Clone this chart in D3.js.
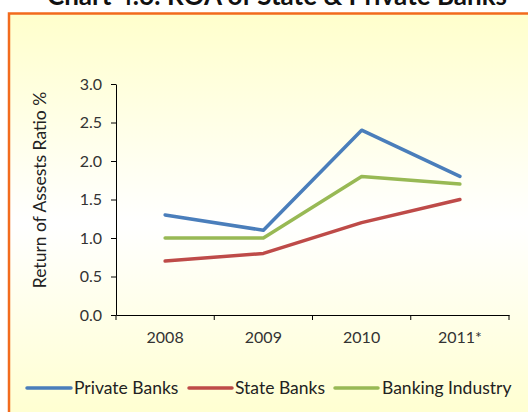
<!DOCTYPE html>
<html>
<head>
<meta charset="utf-8">
<script src="https://cdn.jsdelivr.net/npm/d3@7/dist/d3.min.js"></script>
<style>
  html, body { margin: 0; padding: 0; background: #fff; }
  svg { display: block; }
  text { font-family: Lato, "Open Sans", sans-serif; }
</style>
</head>
<body>
<svg id="chart" width="528" height="412"></svg>
<script>
// Return on assets (%) by year
const years = ["2008", "2009", "2010", "2011*"];
const privateBanks = [1.3, 1.1, 2.4, 1.8];
const stateBanks = [0.7, 0.8, 1.2, 1.5];
const bankingIndustry = [1.0, 1.0, 1.8, 1.7];
const yTicks = [0, 0.5, 1.0, 1.5, 2.0, 2.5, 3.0];

const series = [
  { name: "Private Banks", values: privateBanks, color: "#4a7ebb" },
  { name: "State Banks", values: stateBanks, color: "#be4b48" },
  { name: "Banking Industry", values: bankingIndustry, color: "#98b954" }
];

const svg = d3.select("#chart");

// panel background with soft yellow-white vertical gradient
const defs = svg.append("defs");
const grad = defs.append("linearGradient")
  .attr("id", "bg").attr("x1", 0).attr("y1", 0).attr("x2", 0).attr("y2", 1);
grad.append("stop").attr("offset", "0%").attr("stop-color", "#ffffcc");
grad.append("stop").attr("offset", "50%").attr("stop-color", "#ffffff");
grad.append("stop").attr("offset", "100%").attr("stop-color", "#ffffcc");

svg.append("rect")
  .attr("x", 9).attr("y", 13.5).attr("width", 540).attr("height", 420)
  .attr("fill", "url(#bg)")
  .attr("stroke", "#f26b1d").attr("stroke-width", 2.5);

// title
svg.append("text")
  .attr("x", 277).attr("y", 5)
  .attr("text-anchor", "middle")
  .attr("font-size", 26).attr("font-weight", "bold")
  .attr("fill", "#111")
  .text("Chart 4.6: ROA of State & Private Banks");

const plotLeft = 116, plotRight = 509, plotTop = 84, plotBottom = 315;

const x = d3.scaleBand().domain(years).range([plotLeft, plotRight]);
const y = d3.scaleLinear().domain([0, 3]).range([plotBottom, plotTop]);

// y axis
const yAxis = svg.append("g")
  .attr("transform", `translate(${plotLeft},0)`)
  .call(d3.axisLeft(y).tickValues(yTicks).tickFormat(d3.format(".1f")).tickSize(5).tickSizeOuter(0));
yAxis.select(".domain").attr("stroke", "#000");
yAxis.selectAll(".tick line").attr("stroke", "#000");
yAxis.selectAll(".tick text")
  .attr("x", -14)
  .attr("font-size", 16).attr("fill", "#333")
  .style("font-family", "Lato, sans-serif");

// x axis with ticks at category boundaries
const xAxis = svg.append("g")
  .attr("transform", `translate(0,${plotBottom})`)
  .call(d3.axisBottom(x).tickSize(0).tickSizeOuter(0));
xAxis.select(".domain").attr("stroke", "#000");
xAxis.selectAll(".tick text")
  .attr("y", 17)
  .attr("font-size", 16).attr("fill", "#333")
  .style("font-family", "Lato, sans-serif");
const boundaries = years.map(d => x(d)).concat([x(years[years.length - 1]) + x.bandwidth()]);
xAxis.selectAll(".bound").data(boundaries).enter().append("line")
  .attr("x1", d => d).attr("x2", d => d)
  .attr("y1", 0).attr("y2", 5)
  .attr("stroke", "#000");

// series lines
const line = d3.line()
  .x((d, i) => x(years[i]) + x.bandwidth() / 2)
  .y(d => y(d));

svg.append("g").selectAll("path").data(series).enter().append("path")
  .attr("d", d => line(d.values))
  .attr("fill", "none")
  .attr("stroke", d => d.color)
  .attr("stroke-width", 3.5)
  .attr("stroke-linejoin", "round")
  .attr("stroke-linecap", "round");

// y-axis title
svg.append("text")
  .attr("transform", "translate(46,190) rotate(-90)")
  .attr("text-anchor", "middle")
  .attr("font-size", 17.5).attr("fill", "#222")
  .text("Return of Assests Ratio %");

// legend
const legendItems = [
  { x1: 27, x2: 71, tx: 74 },
  { x1: 189, x2: 232, tx: 235 },
  { x1: 335, x2: 378, tx: 382 }
];
const lg = svg.append("g").selectAll("g").data(series).enter().append("g");
lg.append("line")
  .attr("x1", (d, i) => legendItems[i].x1).attr("x2", (d, i) => legendItems[i].x2)
  .attr("y1", 388).attr("y2", 388)
  .attr("stroke", d => d.color).attr("stroke-width", 3.5).attr("stroke-linecap", "round");
lg.append("text")
  .attr("x", (d, i) => legendItems[i].tx).attr("y", 394)
  .attr("font-size", 17.5).attr("fill", "#222")
  .text(d => d.name);
</script>
</body>
</html>
